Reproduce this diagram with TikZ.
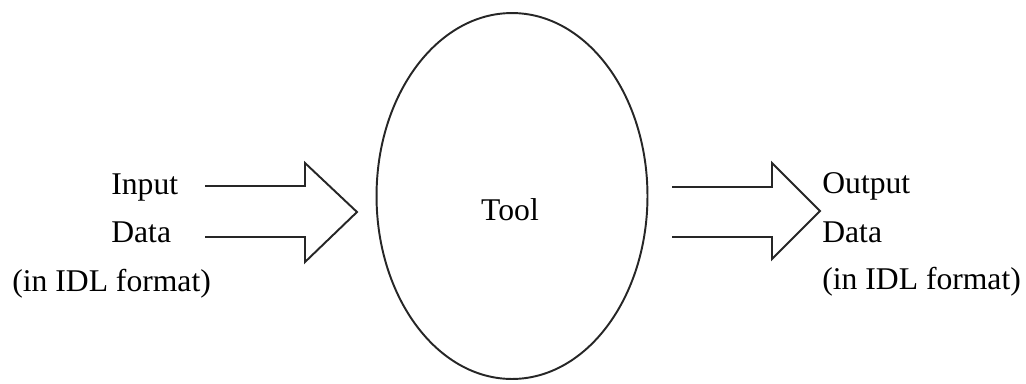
\documentclass[tikz,border=0pt]{standalone}
\usepackage{fontspec}
\setmainfont{Liberation Serif}
\usetikzlibrary{shapes.geometric}

\begin{document}
\begin{tikzpicture}[x=0.02cm,y=-0.02cm,
    txt/.style={anchor=base west,inner sep=0pt,font=\fontsize{18}{22}\selectfont},
    hollow/.style={black!85,line width=1.1pt,line join=miter}]
    \useasboundingbox (0,0) rectangle (1026,383);

    % the tool in the middle
    \node[ellipse,draw,black!85,line width=1.1pt,inner sep=0pt,
          minimum width=5.42cm,minimum height=7.32cm] (tool) at (512,196) {};
    \node[txt,anchor=base] (toolTxt) at (510,220) {Tool};

    % texts on the left
    \node[txt] (inA) at (111,194) {Input};
    \node[txt] (inB) at (111,242) {Data};
    \node[txt] (inC) at (12,291) {(in IDL format)};

    % texts on the right
    \node[txt] (outA) at (822,193) {Output};
    \node[txt] (outB) at (822,242) {Data};
    \node[txt] (outC) at (822,289) {(in IDL format)};

    % points of the input arrow
    \coordinate (A) at (205,186);
    \coordinate (B) at (305,186);
    \coordinate (C) at (305,163);
    \coordinate (D) at (357,212);
    \coordinate (E) at (305,262);
    \coordinate (F) at (305,237);
    \coordinate (G) at (205,237);

    % points of the output arrow
    \coordinate (H) at (672,187);
    \coordinate (I) at (772,187);
    \coordinate (J) at (772,163);
    \coordinate (K) at (820,211);
    \coordinate (L) at (772,259);
    \coordinate (M) at (772,237);
    \coordinate (N) at (672,237);

    % hollow arrows
    \draw[hollow] (A) -- (B) -- (C) -- (D) -- (E) -- (F) -- (G);
    \draw[hollow] (H) -- (I) -- (J) -- (K) -- (L) -- (M) -- (N);

\end{tikzpicture}
\end{document}
